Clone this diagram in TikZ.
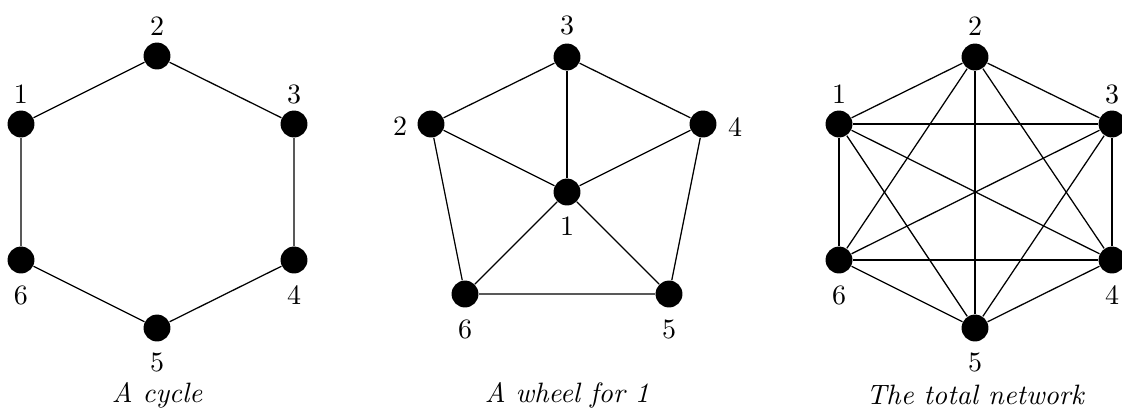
\documentclass[tikz,border=0pt]{standalone}
\begin{document}
\begin{tikzpicture}[x=0.357pt,y=-0.357pt,
  vtx/.style={circle,fill=black,inner sep=0pt,minimum size=9.6pt},
  lbl/.style={inner sep=0pt},
  captxt/.style={inner sep=0pt,font=\itshape},
  edge/.style={line width=0.45pt}]
\useasboundingbox (0,0) rectangle (1122,409);
% cycle
\node[vtx] (a1) at (21,124) {};
\node[vtx] (a2) at (157,56) {};
\node[vtx] (a3) at (294,124) {};
\node[vtx] (a4) at (294,260) {};
\node[vtx] (a5) at (157,328) {};
\node[vtx] (a6) at (21,260) {};
\node[lbl] (la1) at (21,94) {1};
\node[lbl] (la2) at (157,26) {2};
\node[lbl] (la3) at (294,94) {3};
\node[lbl] (la4) at (294,295) {4};
\node[lbl] (la5) at (157,362) {5};
\node[lbl] (la6) at (21,295) {6};
\draw[edge] (a1) -- (a2) -- (a3) -- (a4) -- (a5) -- (a6) -- (a1);
\node[captxt] (ca) at (157,395) {A cycle};
% wheel
\node[vtx] (b1) at (567,192) {};
\node[vtx] (b2) at (431,124) {};
\node[vtx] (b3) at (567,57) {};
\node[vtx] (b4) at (703,124) {};
\node[vtx] (b5) at (669,294) {};
\node[vtx] (b6) at (465,294) {};
\node[lbl] (lb1) at (567,226) {1};
\node[lbl] (lb2) at (400,126) {2};
\node[lbl] (lb3) at (567,25) {3};
\node[lbl] (lb4) at (735,127) {4};
\node[lbl] (lb5) at (669,329) {5};
\node[lbl] (lb6) at (465,329) {6};
\draw[edge] (b2) -- (b3) -- (b4) -- (b5) -- (b6) -- (b2);
\foreach \k in {2,...,6} \draw[edge] (b1) -- (b\k);
\node[captxt] (cb) at (567,395) {A wheel for 1};
% total
\node[vtx] (c1) at (839,124) {};
\node[vtx] (c2) at (975,57) {};
\node[vtx] (c3) at (1112,124) {};
\node[vtx] (c4) at (1112,260) {};
\node[vtx] (c5) at (975,328) {};
\node[vtx] (c6) at (839,260) {};
\node[lbl] (lc1) at (839,94) {1};
\node[lbl] (lc2) at (975,26) {2};
\node[lbl] (lc3) at (1112,94) {3};
\node[lbl] (lc4) at (1112,295) {4};
\node[lbl] (lc5) at (975,362) {5};
\node[lbl] (lc6) at (839,295) {6};
\foreach \i in {1,...,5} {
  \pgfmathtruncatemacro{\s}{\i+1}
  \foreach \j in {\s,...,6} \draw[edge] (c\i) -- (c\j);
}
\node[captxt] (cc) at (975,395) {The total network};
\end{tikzpicture}
\end{document}
